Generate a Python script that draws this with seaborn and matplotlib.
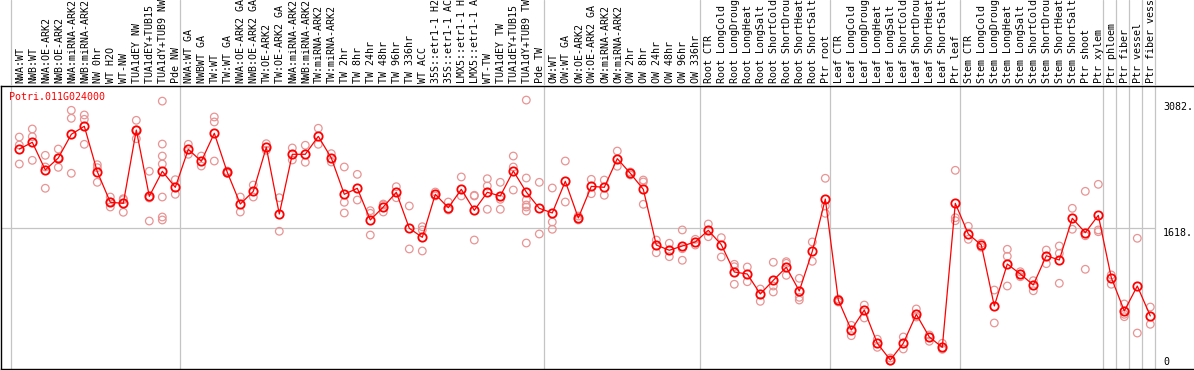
import numpy as np
import pandas as pd
import matplotlib
matplotlib.use("Agg")
import matplotlib.pyplot as plt
import matplotlib.transforms as mtransforms
import seaborn as sns

# ---------------- data ----------------
gene = "Potri.011G024000"

samples = [
    "NWA:WT", "NWB:WT", "NWA:OE-ARK2", "NWB:OE-ARK2", "NWA:miRNA-ARK2", "NWB:miRNA-ARK2",
    "NW 0hr", "WT H2O", "WT-NW", "TUA1dEY NW", "TUA1dEY+TUB15 NW", "TUA1dY+TUB9 NW", "Pde NW",
    "NWA:WT GA", "NWBWT GA", "TW:WT", "TW:WT GA", "NWA:OE-ARK2 GA", "NWB:OE-ARK2 GA",
    "TW:OE-ARK2", "TW:OE-ARK2 GA", "NWA:miRNA-ARK2", "NWB:miRNA-ARK2", "TW:miRNA-ARK2",
    "TW:miRNA-ARK2", "TW 2hr", "TW 8hr", "TW 24hr", "TW 48hr", "TW 96hr", "TW 336hr",
    "WT ACC", "35S::etr1-1 H2O", "35S::etr1-1 ACC", "LMX5::etr1-1 H2O", "LMX5::etr1-1 ACC",
    "WT-TW", "TUA1dEY TW", "TUA1dEY+TUB15 TW", "TUA1dY+TUB9 TW", "Pde TW",
    "OW:WT", "OW:WT GA", "OW:OE-ARK2", "OW:OE-ARK2 GA", "OW:miRNA-ARK2", "OW:miRNA-ARK2",
    "OW 2hr", "OW 8hr", "OW 24hr", "OW 48hr", "OW 96hr", "OW 336hr",
    "Root CTR", "Root LongCold", "Root LongDrought", "Root LongHeat", "Root LongSalt",
    "Root ShortCold", "Root ShortDrought", "Root ShortHeat", "Root ShortSalt", "Ptr root",
    "Leaf CTR", "Leaf LongCold", "Leaf LongDrought", "Leaf LongHeat", "Leaf LongSalt",
    "Leaf ShortCold", "Leaf ShortDrought", "Leaf ShortHeat", "Leaf ShortSalt", "Ptr leaf",
    "Stem CTR", "Stem LongCold", "Stem LongDrought", "Stem LongHeat", "Stem LongSalt",
    "Stem ShortCold", "Stem ShortDrought", "Stem ShortHeat", "Stem ShortSalt", "Ptr shoot",
    "Ptr xylem", "Ptr phloem", "Ptr fiber", "Ptr vessel", "Ptr fiber vessel",
]

means = [
    2523, 2600, 2284, 2421, 2691, 2783, 2264, 1915, 1903, 2740, 1983, 2269, 2086,
    2520, 2383, 2703, 2257, 1895, 2040, 2543, 1781, 2463, 2463, 2668, 2421, 2006, 2075,
    1713, 1861, 2029, 1618, 1515, 2006, 1853, 2063, 1823, 2029, 1987, 2272, 2032, 1846,
    1793, 2155, 1736, 2097, 2086, 2413, 2246, 2063, 1427, 1367, 1416, 1462,
    1595, 1431, 1119, 1096, 868, 1024, 1173, 902, 1355, 1952,
    799, 457, 685, 305, 114, 305, 636, 377, 259, 1903,
    1553, 1427, 731, 1210, 1096, 971, 1305, 1256, 1732, 1568, 1766,
    1054, 674, 959, 617,
]

replicates = [
    [2660, 2569, 2352], [2752, 2664, 2394], [2451, 2318, 2075], [2523, 2421, 2314],
    [2965, 2874, 2246], [2912, 2862, 2577], [2344, 2310, 2143], [1975, 1918, 1861],
    [1956, 1945, 1801], [2851, 2740, 2641], [2269, 1964, 1701],
    [3070, 2580, 2443, 2352, 1975, 1747, 1713], [2173, 2006],
    [2577, 2463], [2443, 2329], [2889, 2832, 2386], [2272, 2257, 2246], [1975, 1804],
    [2112, 1975], [2584, 2509], [1967, 1584], [2535, 2398], [2566, 2372], [2760, 2577],
    [2470, 2375], [2318, 1915, 1793], [2234, 1941], [1819, 1789, 1541], [1895, 1884, 1804],
    [2093, 1967], [1873, 1382], [1636, 1599, 1359], [2032, 1987], [1918, 1827],
    [2204, 1987], [1995, 1987, 1484], [2184, 2101, 1835], [2143, 1949, 1835],
    [2443, 2318, 2055], [3082, 2192, 1941, 1884, 1861, 1815, 1450], [2143, 1553],
    [2078, 1690, 1607], [2386, 1918], [1758, 1713], [2177, 2013], [2169, 1995],
    [2500, 2326], [2261, 2227], [2169, 2147, 1892], [1484, 1339], [1447, 1294],
    [1599, 1385, 1253], [1492, 1427],
    [1667, 1522], [1511, 1290], [1207, 1179, 979], [1176, 1008], [925, 784],
    [1230, 959, 891], [1237, 1218, 1081], [1047, 830, 799], [1462, 1241], [2189, 1873, 1789],
    [811, 776], [510, 392], [742, 594], [351, 259], [137, 103], [377, 240], [697, 605],
    [400, 328], [305, 236], [2280, 1739, 1705],
    [1641, 1492], [1447, 1401], [913, 537], [1378, 1298, 959], [1122, 1065], [1020, 905],
    [1370, 1214], [1416, 1332, 990], [1846, 1607], [2040, 1533, 1150], [2120, 1599, 1579],
    [1085, 979], [754, 636, 609], [1504, 422], [719, 522],
]

# index of the last sample of each group (separators drawn after them)
group_ends = [-1, 12, 40, 52, 62, 72, 83, 84, 85, 86, 87]
ytick_values = [3082, 1618, 0]
ytick_labels = ["3082.", "1618.", "0"]
grid_value = 1618

# ---------------- styling / layout ----------------
sns.set_theme(style="white")
plt.rcParams["font.family"] = ["DejaVu Sans Mono", "DejaVu Sans"]

W, H = 1194, 370
FS = 7.2
RED = "#FF0000"
REP = "#E99494"
GREY = "#C4C4C4"

col0_px, col_step = 19.3, 13.0      # pixel x of first column and spacing
zero_px, val_per_px = 370.0, 11.418  # pixel y of value 0 and value per pixel
plot_left, plot_top, plot_bottom = 1, 86, 369

fig = plt.figure(figsize=(W / 100, H / 100), dpi=100)
ax = fig.add_axes([plot_left / W, (H - plot_bottom) / H,
                   (W - plot_left) / W, (plot_bottom - plot_top) / H])
lab = fig.add_axes([plot_left / W, (H - plot_top) / H,
                    (W - plot_left) / W, plot_top / H], sharex=ax)

xlim = ((plot_left - col0_px) / col_step, (W - col0_px) / col_step)
ylim = ((zero_px - plot_bottom) * val_per_px, (zero_px - plot_top) * val_per_px)

# data frames
x = np.arange(len(samples))
df_means = pd.DataFrame({"x": x, "value": means})
rows = [(i, v) for i, reps in enumerate(replicates) for v in reps]
df_reps = pd.DataFrame(rows, columns=["x", "value"])

# separators and gridline
sep_x = [g + 0.385 for g in group_ends]
for sx in sep_x:
    ax.axvline(sx, color=GREY, lw=0.9, zorder=0)
    lab.axvline(sx, color=GREY, lw=0.9, zorder=0)
ax.hlines(grid_value, xlim[0], sep_x[-1], color=GREY, lw=0.9, zorder=0)

# replicates
n_before = len(ax.collections)
sns.scatterplot(data=df_reps, x="x", y="value", ax=ax, marker="o", s=30,
                color=REP, linewidth=0.9, legend=False, zorder=2)
for coll in ax.collections[n_before:]:
    coll.set_facecolor("none")
    coll.set_edgecolor(REP)

# means
sns.lineplot(data=df_means, x="x", y="value", ax=ax, sort=False, color=RED,
             linewidth=0.9, marker="o", markersize=6, markerfacecolor="none",
             markeredgecolor=RED, markeredgewidth=1.3, zorder=3, legend=False)

ax.set_xlim(*xlim)
ax.set_ylim(*ylim)
ax.set_xlabel("")
ax.set_ylabel("")
ax.set_xticks([])
ax.set_yticks([])
for side in ["left", "top", "bottom"]:
    ax.spines[side].set_visible(True)
    ax.spines[side].set_color("black")
    ax.spines[side].set_linewidth(1.0)
ax.spines["right"].set_visible(False)

lab.set_ylim(0, 1)
lab.axis("off")

# column labels
tr = mtransforms.blended_transform_factory(lab.transData, lab.transAxes)
for i, s in enumerate(samples):
    lab.text(i + 0.05, 3 / plot_top, s, rotation=90, ha="center", va="bottom",
             fontsize=FS, color="black", transform=tr, clip_on=False)

# gene name
ax.text((9.3 - plot_left) / (W - plot_left), 1 - 6 / (plot_bottom - plot_top), gene,
        transform=ax.transAxes, ha="left", va="top", fontsize=FS, color=RED)

# y labels on the right (offset in pixels, positive = downwards)
ytr = mtransforms.blended_transform_factory(ax.transAxes, ax.transData)
label_x = (1163 - plot_left) / (W - plot_left)
offsets_px = [7, 4.7, -8]
for v, t, off in zip(ytick_values, ytick_labels, offsets_px):
    ax.text(label_x, v, t, ha="left", va="center", fontsize=FS, color="black",
            transform=ytr + mtransforms.ScaledTranslation(0, -off / 100, fig.dpi_scale_trans),
            clip_on=False)

fig.savefig("out.png", dpi=100)
